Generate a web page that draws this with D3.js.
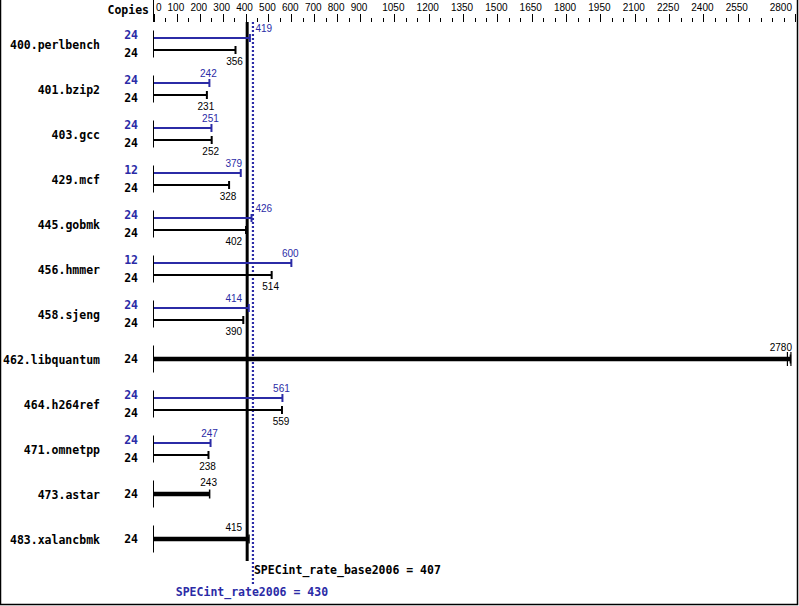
<!DOCTYPE html>
<html><head><meta charset="utf-8">
<script src="https://cdn.jsdelivr.net/npm/d3@7"></script>
<style>body{margin:0;background:#fff}svg{display:block}</style>
</head><body>
<script>
const benchmarks = ["400.perlbench","401.bzip2","403.gcc","429.mcf","445.gobmk","456.hmmer","458.sjeng","462.libquantum","464.h264ref","471.omnetpp","473.astar","483.xalancbmk"];
const baseCopies = [24,24,24,24,24,24,24,24,24,24,24,24];
const baseValues = [356,231,252,328,402,514,390,2780,559,238,243,415];
const peakCopies = [24,24,24,12,24,12,24,null,24,24,null,null];
const peakValues = [419,242,251,379,426,600,414,null,561,247,null,null];
const tickLabels = [0,100,200,300,400,500,600,700,800,900,1050,1200,1350,1500,1650,1800,1950,2100,2250,2400,2550,2800];
const minorTicks = d3.range(0,2801,50);
const baseMean = 407, peakMean = 430;
const baseName = "SPECint_rate_base2006", peakName = "SPECint_rate2006";

const W=799,H=606, BLUE="#2b2ba6";
const svg=d3.select("body").append("svg").attr("width",W).attr("height",H);
const x=d3.scaleLinear().domain([0,2800]).range([154,795]);
const y=d3.scaleBand().domain(benchmarks).range([21.5,561.5]);
const rc=d=>y(d)+y.bandwidth()/2;
const bold="DejaVu Sans Mono", thin="Liberation Sans";

// frame
svg.append("path").attr("d",`M0.5,0V604.5H797.5V0`).attr("fill","none").attr("stroke","#000").attr("stroke-width",1.5);
svg.append("line").attr("x1",153.5).attr("x2",153.5).attr("y1",0).attr("y2",22).attr("stroke","#000");
svg.append("text").attr("x",149).attr("y",10).attr("text-anchor","end").attr("dominant-baseline","central")
  .attr("font-family",bold).attr("font-weight","bold").attr("font-size",11.5).text("Copies");

// axis ticks
const majorSet=new Set(tickLabels);
svg.append("g").selectAll("line").data(minorTicks).join("line")
  .attr("x1",d=>Math.round(x(d))+0.5).attr("x2",d=>Math.round(x(d))+0.5)
  .attr("y1",d=>majorSet.has(d)?14:18).attr("y2",22).attr("stroke","#000");
svg.append("g").selectAll("text").data(tickLabels).join("text")
  .attr("x",d=>d===0?156:(d===2800?792:x(d)-1))
  .attr("text-anchor",d=>d===0?"start":(d===2800?"end":"middle"))
  .attr("y",10.5).attr("font-family",thin).attr("font-size",10).text(d=>d);

// mean lines
svg.append("line").attr("x1",x(baseMean)).attr("x2",x(baseMean)).attr("y1",22).attr("y2",561)
  .attr("stroke","#000").attr("stroke-width",3);
svg.append("line").attr("x1",x(peakMean)+0.5).attr("x2",x(peakMean)+0.5).attr("y1",22).attr("y2",584)
  .attr("stroke",BLUE).attr("stroke-width",2.2).attr("stroke-dasharray","2,2");

const lo=x(baseMean)-4, hi=x(peakMean)+2, mid=x((baseMean+peakMean)/2);
function labelPos(v,w){
  let cx=x(v)-1, l=cx-w/2, r=cx+w/2;
  if(r>792){return {x:792,a:"end"};}
  if(r>lo && l<hi){ if(x(v)<mid) return {x:lo-1,a:"end"}; return {x:hi+1,a:"start"}; }
  return {x:cx,a:"middle"};
}

const g=svg.append("g");
benchmarks.forEach((b,i)=>{
  const c=rc(b);
  g.append("text").attr("x",100).attr("y",c+1).attr("text-anchor","end").attr("dominant-baseline","central")
    .attr("font-family",bold).attr("font-weight","bold").attr("font-size",11.5).text(b);
  g.append("line").attr("x1",153.5).attr("x2",153.5).attr("y1",c-13.5).attr("y2",c+13.5).attr("stroke","#000");
  const single=peakValues[i]==null;
  const copyT=(yy,col,t)=>g.append("text").attr("x",138).attr("y",yy).attr("text-anchor","end").attr("dominant-baseline","central")
    .attr("font-family",bold).attr("font-weight","bold").attr("font-size",11.5).attr("fill",col).text(t);
  const valT=(v,yy,col)=>{const w=String(v).length*5.6;const p=labelPos(v,w);
    g.append("text").attr("x",p.x).attr("y",yy).attr("text-anchor",p.a).attr("font-family",thin).attr("font-size",10).attr("fill",col).text(v);};
  if(single){
    const v=baseValues[i];
    copyT(c,"#000",baseCopies[i]);
    g.append("line").attr("x1",154).attr("x2",x(v)).attr("y1",c).attr("y2",c).attr("stroke","#000").attr("stroke-width",4.5);
    g.append("line").attr("x1",x(v)).attr("x2",x(v)).attr("y1",c-4.5).attr("y2",c+4.5).attr("stroke","#000").attr("stroke-width",1.5);
    if(v>=2800*0.99) g.append("line").attr("x1",x(v)-3).attr("x2",x(v)-3).attr("y1",c-7).attr("y2",c+7).attr("stroke","#000").attr("stroke-width",1.2);
    if(v>=2800*0.99) g.append("line").attr("x1",x(v)+0.5).attr("x2",x(v)+0.5).attr("y1",c-7).attr("y2",c+7).attr("stroke","#000").attr("stroke-width",1.2);
    valT(v,c-8,"#000");
  } else {
    const yp=c-6, yb=c+6;
    copyT(c-9,BLUE,peakCopies[i]); copyT(c+9,"#000",baseCopies[i]);
    g.append("line").attr("x1",154).attr("x2",x(peakValues[i])).attr("y1",yp).attr("y2",yp).attr("stroke",BLUE).attr("stroke-width",2.2);
    g.append("line").attr("x1",x(peakValues[i])).attr("x2",x(peakValues[i])).attr("y1",yp-4).attr("y2",yp+4).attr("stroke",BLUE).attr("stroke-width",2);
    g.append("line").attr("x1",154).attr("x2",x(baseValues[i])).attr("y1",yb).attr("y2",yb).attr("stroke","#000").attr("stroke-width",2);
    g.append("line").attr("x1",x(baseValues[i])).attr("x2",x(baseValues[i])).attr("y1",yb-4).attr("y2",yb+4).attr("stroke","#000").attr("stroke-width",2);
    valT(peakValues[i],yp-6,BLUE);
    valT(baseValues[i],yb+15,"#000");
  }
});

svg.append("text").attr("x",x(peakMean)+1.5).attr("y",570).attr("dominant-baseline","central")
  .attr("font-family",bold).attr("font-weight","bold").attr("font-size",11.5).text(`${baseName} = ${baseMean}`);
svg.append("text").attr("x",x(peakMean)-0.5).attr("y",592).attr("text-anchor","middle").attr("dominant-baseline","central")
  .attr("font-family",bold).attr("font-weight","bold").attr("font-size",11.5).attr("fill",BLUE).text(`${peakName} = ${peakMean}`);
</script>
</body></html>
